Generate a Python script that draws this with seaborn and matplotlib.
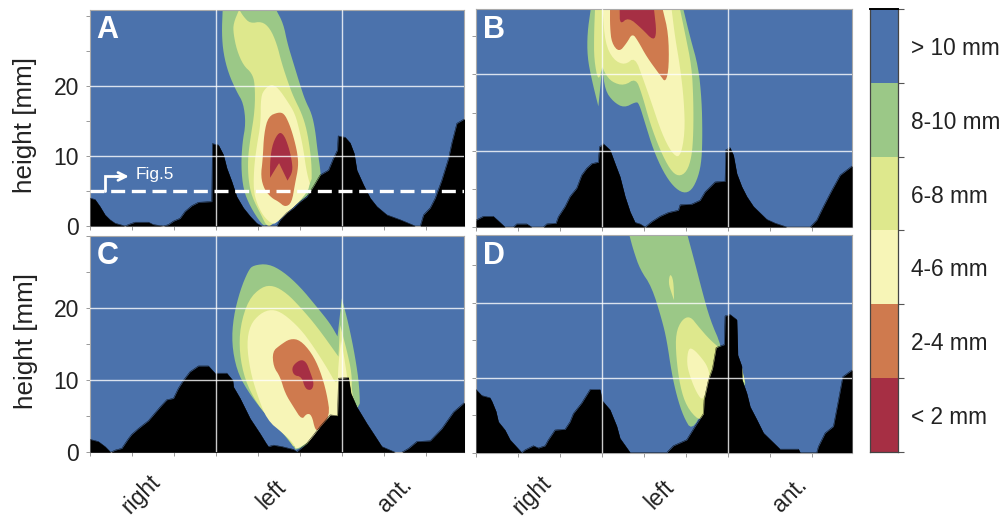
import numpy as np
import matplotlib
matplotlib.use("Agg")
import matplotlib.pyplot as plt
from matplotlib.colors import ListedColormap
import seaborn as sns

W, H = 1005, 517

# ground profile per panel: azimuth [deg] and height [mm]
ground_a_az = [0, 4.8, 9.5, 14.3, 19, 23.8, 28.6, 33.3, 38.1, 42.9, 55.6, 60.3, 69.8, 74.6, 79.4, 85.7, 90.5, 96.8, 103.2, 115.9,
               116.5, 122.2, 127, 130.2, 134.9, 139.7, 146, 152.4, 158.7, 163.5, 177.8, 181, 187.3, 193.7, 200, 206.3, 212.7, 219,
               227, 231.7, 235.6, 236.2, 242.9, 247.6, 251.4, 254, 260.3, 266.7, 273, 282.5, 295.2, 303.2, 309.5, 314.3, 317.5,
               323.8, 328.6, 334.9, 341.3, 344.4, 349.2, 357]
ground_a_h = [4.0, 3.8, 2.8, 1.6, 0.9, 0.4, 0.2, 0, 0.3, 0.55, 0.55, 0.2, 0, 0.2, 0.7, 1.1, 2.1, 2.9, 3.4, 3.5,
              11.8, 11.6, 10.2, 8.3, 6.4, 4.2, 2.6, 1.4, 0.4, 0, 0, 0.9, 1.9, 2.6, 3.5, 4.2, 5.7, 7.3,
              8, 9.7, 10.9, 12.9, 12.7, 11.9, 10.4, 8, 5.9, 4, 2.8, 1.6, 0.9, 0.4, 0, 0, 1.6,
              2.6, 4, 6.6, 9.7, 11.9, 14.7, 15.4]
ground_b_az = [0, 7, 16.5, 21.3, 27.6, 35.6, 38.7, 48.3, 53, 64.1, 67.3, 76.2, 78.4, 84.8, 89.5, 95.9, 100.6, 105.4, 110.2, 116.5,
               117.5, 121.3, 127.6, 132.4, 137.1, 141.9, 146.7, 151.4, 156.2, 161, 167.3, 175.2, 183.2, 192.7, 194.3, 205.4, 213.3,
               218.1, 227.6, 237.1, 237.8, 241.9, 245.1, 248.3, 253, 257.8, 264.1, 276.8, 284.8, 295.9, 318.1, 324.4, 330.8, 338.7,
               346.7, 358.1]
ground_b_h = [0.9, 1.4, 1.4, 0.8, 0, 0, 0.4, 0.4, 0, 0, 0.4, 0.5, 1.35, 2.7, 4, 5.1, 6.8, 7.7, 8.3, 8.5,
              10.5, 10.9, 10.1, 8.3, 6.6, 4, 2, 0.6, 0.4, 0, 0.7, 1.4, 1.9, 2.2, 2.9, 3, 3.5,
              4.6, 5.9, 6, 10.1, 10.4, 9.4, 7, 5.3, 4, 2.7, 1, 0.5, 0, 0, 0.9, 2.7, 4.8,
              6.8, 8]
ground_c_az = [0, 7.9, 14.3, 19.7, 23.8, 30.2, 36.5, 39.7, 46, 55.6, 66.7, 73, 79.4, 84.1, 88.9, 95.2, 103.2, 112.7, 119, 130.2,
               135.9, 136.5, 142.9, 152.4, 161.9, 167.6, 169.8, 174.6, 182.5, 193.7, 196.8, 206.3, 212.7, 219, 228.6, 235.6, 236.5,
               246, 248.3, 254, 263.5, 269.8, 277.8, 285.7, 290.5, 296.8, 303.2, 311.1, 323.8, 334.9, 346, 357]
ground_c_h = [1.8, 1.5, 0.8, 0, 0.3, 0.55, 1.9, 2.5, 3.3, 4.4, 6.3, 7.3, 7.5, 8.9, 10, 11.2, 12, 12, 11, 11,
              10, 9.1, 7.5, 4.7, 2.6, 1.25, 0.8, 1, 0.8, 0.4, 0.1, 1.25, 2.4, 3.6, 5.2, 5.1, 10.3,
              10.4, 8.2, 6.3, 4, 2.6, 0.8, 0.3, 0, 0, 0.55, 1.5, 1.6, 3.3, 5.6, 7]
ground_d_az = [0, 5.4, 13.3, 15.2, 19, 21.3, 27.6, 32.4, 43.5, 46.7, 54.6, 59.4, 65.7, 68.9, 75.2, 84.8, 89.5, 92.7, 100.6, 108.6,
               118.1, 120.3, 127.6, 134, 137.1, 146.7, 181.6, 187.9, 200.6, 208.6, 216.5, 217.1, 221.3, 225.1, 228.6, 236.5, 237.1,
               241.9, 248.3, 249.2, 253, 253.3, 257.8, 261, 267.3, 273.7, 289.5, 307, 308.6, 324.4, 326, 332.4, 340.3, 345.1, 349.2, 358]
ground_d_h = [8.4, 7.6, 7.3, 6.8, 5.5, 4.1, 3, 1.7, 0, 0.35, 0.9, 0.6, 0.9, 1.7, 3, 3.1, 4.1, 5.2, 6.6, 8.4,
              8.4, 6.9, 5.7, 3.5, 1.9, 0, 0, 0.9, 1.7, 3.5, 5.2, 7, 9.7, 11.2, 14, 14.4, 18.2,
              18.4, 17.7, 13, 11.5, 9.7, 7.9, 6.1, 4.4, 2.6, 0.45, 0.45, 0, 0, 0.8, 2.6, 3.5, 7, 10.1, 11]

# contour outlines (azimuth deg, height mm), a repeated point is a sharp corner
a_8_10 = [(126.3, 31), (126.3, 31), (177, 31), (177, 31), (184, 29), (188, 26.1), (193.7, 23.3), (200, 20.2), (204.8, 18), (211, 16.1), (214.3, 13.8),
          (216.5, 10.9), (219.7, 7.6), (219.7, 5.7), (168, 0), (163.5, 0.2), (152.4, 2.8), (146, 5.2), (143.8, 8.5), (145, 11.9),
          (148.3, 14.7), (146, 17.6), (139.7, 19.2), (131.7, 21.9), (127, 24.7), (125.4, 27.6)]
a_6_8 = [(142, 31), (142, 31), (146, 30), (152.4, 29), (163.5, 29.3), (171.4, 28.3), (177.8, 26.1), (182.5, 23.3), (188.9, 20.4), (193.7, 18.5),
         (201.6, 16.1), (206.3, 13.8), (209.5, 10.9), (211, 8.5), (211, 5.7), (173, 0), (168, 0), (163.5, 1.4), (154, 4.2), (150.8, 6.6),
         (150.2, 9.5), (152.4, 12.3), (157, 16.6), (157, 20.4), (154, 21.9), (146, 23), (139.7, 25.2), (136.5, 27.6), (136.5, 29)]
a_4_6 = [(173, 20.3), (179.4, 19.7), (187.3, 18), (195.2, 16.1), (200, 13.3), (203.2, 10.9), (206.3, 7.6), (211, 5.2), (177.8, 0.4),
         (173, 0.3), (165, 1.4), (158.7, 3.3), (155.6, 5.2), (156.2, 8.5), (158.7, 11.4), (162.5, 14.7), (162.5, 18.5), (166.7, 19.7)]
a_2_4 = [(179.4, 16.3), (184.8, 16.1), (189.5, 14.7), (193.7, 12.8), (197.5, 10.4), (198.4, 8.5), (195.2, 6.1), (192, 3.3), (185.7, 2.7),
         (179.4, 3.5), (173, 4), (166, 5.2), (162.5, 7.1), (164.4, 9.5), (165.7, 13.3), (169.8, 15.7)]
a_0_2 = [(180, 13.5), (184.8, 13), (188.9, 11.4), (192, 9.5), (193, 7.8), (188, 6.5), (188, 6.5), (180, 9), (180, 9), (177.8, 8.5), (171.4, 6.9), (171.4, 6.9), (171.4, 9.5), (174, 11.9)]

b_8_10 = [(109.2, 28.5), (109.2, 28.5), (197.5, 28.5), (197.5, 28.5), (203.8, 24.9), (211.7, 21), (214.9, 16.6), (215.6, 12.3), (214.9, 8.8), (211.7, 6.6), (205.4, 4.8),
          (197.5, 4.4), (187.9, 5.3), (178.4, 7.2), (168.9, 10.1), (161, 13.6), (155.2, 16.2), (152.1, 16.4), (141, 15.6), (130.8, 16.4),
          (122.9, 17.9), (120.3, 21), (120.3, 21), (116.5, 15.8), (116.5, 15.8), (110.2, 19.3), (106, 22.3), (106, 25.4)]
b_6_8 = [(113.3, 28.5), (113.3, 28.5), (194.3, 28.5), (194.3, 28.5), (199, 25.4), (205.4, 21), (207, 16.6), (207, 12.3), (205.4, 9.2), (200.6, 7.2), (192.7, 6.6),
         (184.8, 7.5), (175.2, 10.1), (165.7, 13.6), (157.8, 17.5), (152.1, 19.5), (141, 18.5), (129.2, 19), (122.9, 20.1), (120.3, 21), (120.3, 21),
         (116.5, 19), (112.4, 21.9), (112.4, 25.4)]
b_4_6 = [(120.6, 28.5), (120.6, 28.5), (186.3, 28.5), (186.3, 28.5), (189.5, 24.9), (194.3, 21), (198, 16.6), (199, 12.3), (194.3, 9), (186.3, 9.7), (176.8, 12.3),
         (167.3, 16.2), (159.4, 19.3), (151.4, 22.3), (141.9, 21.2), (130.8, 21.9), (122.9, 24.1)]
b_2_4 = [(127.6, 28.5), (127.6, 28.5), (177.8, 28.5), (177.8, 28.5), (183.2, 25.4), (183.8, 21), (180.6, 18.9), (175.2, 19.9), (162.5, 22.3), (154.6, 24.3), (148.9, 25.4),
         (143.5, 24.1), (136.2, 22.9), (129.2, 24.1), (127.6, 26.2)]
b_0_2 = [(136.8, 28.5), (136.8, 28.5), (169.5, 28.5), (169.5, 28.5), (172, 25.4), (168.9, 24.4), (157.8, 26), (145, 27.5), (137, 26.5)]

c_8_10 = [(155.6, 26), (169.8, 26.2), (184.1, 25.1), (200, 23), (215.9, 20.2), (228.6, 17.9), (235.6, 16.1), (235.6, 16.1), (239.7, 21.4), (239.7, 21.4), (246, 17.9),
          (252.4, 13.3), (256.5, 9.1), (257, 5.4), (196.8, 0.1), (193.7, 0.8), (181, 3.1), (165, 5.6), (149.2, 8.7), (139.7, 11.4),
          (134.9, 15.1), (136.5, 18.8), (142.9, 22.5), (150.8, 25.3)]
c_6_8 = [(163.5, 23), (174.6, 23.2), (187.3, 22.1), (200, 20.2), (215.9, 17.5), (236.5, 13.3), (236.5, 13.3), (238, 17.7), (238, 17.7), (244.4, 14.2), (249.2, 11),
         (249.2, 8.2), (254, 5.9), (196.8, 0.1), (187.3, 2.2), (174.6, 4), (158.7, 6.8), (147.6, 10), (142.2, 13.8), (142.9, 17.5), (150.8, 21.2)]
c_4_6 = [(173, 19.9), (184, 19.3), (200, 17.2), (212.7, 14.7), (227, 11.4), (235.6, 9.1), (236.5, 12.4), (239, 15.6), (239, 15.6), (242.9, 12.4),
         (246, 9.1), (238, 5), (196.8, 0.1), (193.7, 1.25), (184, 2.6), (168.3, 4.5), (158.7, 8.2), (152.4, 11.4), (149.2, 15.1), (152.4, 17.7), (162, 19.3)]
c_2_4 = [(190.5, 15.8), (200, 15.6), (211, 13.8), (219, 11.4), (225.4, 8.2), (228.6, 5), (217.5, 3.1), (214.3, 3.1), (211, 5.2),
         (206.3, 5.4), (201.6, 4.5), (193.7, 6.3), (185.7, 8.2), (181, 10.5), (174.6, 11.9), (173.7, 14), (181, 14.9)]
c_0_2 = [(200, 12.9), (205.7, 12.6), (209.5, 11.2), (213.3, 9.6), (211, 8.6), (204.8, 8.8), (201.6, 10.5), (193.7, 10.7), (192, 11.9)]

d_8_10 = [(146, 29), (146, 29), (201.3, 29), (201.3, 29), (208.6, 25.2), (215, 21.7), (222.9, 17.7), (234, 14.1), (235.6, 11), (253, 11.5), (258.4, 7.9),
          (216.5, 5.7), (205.4, 2.9), (197.5, 4.8), (191.2, 7.5), (186.3, 10.6), (181.6, 15), (177, 17.7), (167.3, 22.1), (156.2, 24.4), (149.8, 27)]
d_6_8 = [(195.9, 17.7), (203.8, 18.2), (211.7, 16.8), (222.9, 15), (234, 13.7), (229.2, 7.5), (216.5, 4.8), (211.7, 4.3), (200.6, 6.1),
         (194.3, 8.8), (190.5, 12.8), (190.2, 15.9)]
d_6_8_island = [(184.8, 23.9), (188, 23), (188.6, 20.3), (188.6, 20.3), (186.3, 21.2), (183.2, 22.6)]
d_6_8_sliver = [(253, 11.5), (253, 11.5), (256.2, 9.2), (256.2, 9.2), (254, 9.6), (254, 9.6)]
d_4_6 = [(202.2, 13.9), (207, 13.8), (214.9, 12.6), (220.3, 11.5), (222.9, 10.1), (216.5, 6.8), (210.2, 7.9), (203.8, 10.1), (200.6, 11.9)]

legend_labels = ["> 10 mm", "8-10 mm", "6-8 mm", "4-6 mm", "2-4 mm", "< 2 mm"]
colors = ["#4b72ac", "#9bc887", "#dee88d", "#f7f5b7", "#cf7a4e", "#a62f44"]
GREEN, YELLOW, PALE, ORANGE, RED = colors[1:]

sns.set_theme(style="white")
plt.rcParams["font.family"] = ["Liberation Sans", "DejaVu Sans"]


def add_axes(fig, x0, y0, x1, y1):
    return fig.add_axes([x0 / W, 1 - y1 / H, (x1 - x0) / W, (y1 - y0) / H])


def rounded(poly, n=2):
    # corner cutting, so the outlines look like contours and not polygons
    pts = np.array(poly, dtype=float)
    for _ in range(n):
        nxt = np.roll(pts, -1, axis=0)
        out = np.empty((len(pts) * 2, 2))
        out[0::2] = 0.75 * pts + 0.25 * nxt
        out[1::2] = 0.25 * pts + 0.75 * nxt
        pts = out
    return pts


def panel(ax, letter, ground_az, ground_h, bands, xmax, ymax, ylab_pos, xlabs):
    ax.set_facecolor(colors[0])
    for poly, col in bands:
        pts = rounded(poly)
        ax.fill(pts[:, 0], pts[:, 1], color=col, lw=0)
    ax.fill_between(ground_az, 0, ground_h, color="black", lw=0, zorder=3)
    sns.lineplot(x=ground_az, y=ground_h, color="black", lw=0.3, ax=ax, zorder=3, errorbar=None, sort=False)
    ax.set_xlim(0, xmax)
    ax.set_ylim(0, ymax)
    ax.set_xticks(np.arange(0, 360, 40))
    ax.set_yticks(np.arange(0, ymax, 5))
    ax.set_xticklabels([])
    if ylab_pos:
        ax.set_yticklabels(["0", "", "10", "", "20", "", ""][:len(ax.get_yticks())], fontsize=16.5, color="#222222")
    else:
        ax.set_yticklabels([])
    ax.tick_params(axis="both", length=3, width=0.7, color="#999999", left=True, bottom=True, pad=5)
    for v in (120, 240):
        ax.axvline(v, color="white", lw=1.0, alpha=0.8, zorder=4)
    for v in (10, 20):
        ax.axhline(v, color="white", lw=1.0, alpha=0.8, zorder=4)
    for s in ax.spines.values():
        s.set_color("#aaaaaa")
        s.set_linewidth(0.8)
    ax.set_xlabel("")
    ax.set_ylabel("")
    if ylab_pos:
        ax.set_ylabel("height [mm]", fontsize=18.7, color="#222222")
        ax.yaxis.set_label_coords(*ylab_pos)
    ax.text(0.018, 0.905, letter, transform=ax.transAxes, color="white", fontsize=22,
            fontweight="bold", va="center", ha="left", zorder=6)
    for name, pos in xlabs:
        ax.text(pos, -0.195, name, transform=ax.get_xaxis_transform(), rotation=45, ha="center", va="center",
                fontsize=16.5, color="#222222")


fig = plt.figure(figsize=(W / 100, H / 100), dpi=100)

ax_a = add_axes(fig, 90, 9.5, 464, 226)
ax_b = add_axes(fig, 476, 9.5, 852, 227)
ax_c = add_axes(fig, 90, 235.7, 464, 452.3)
ax_d = add_axes(fig, 476, 235, 852, 452.5)

panel(ax_a, "A", ground_a_az, ground_a_h, [(a_8_10, GREEN), (a_6_8, YELLOW), (a_4_6, PALE), (a_2_4, ORANGE), (a_0_2, RED)],
      356, 31, (-0.143, 0.467), [])
panel(ax_b, "B", ground_b_az, ground_b_h, [(b_8_10, GREEN), (b_6_8, YELLOW), (b_4_6, PALE), (b_2_4, ORANGE), (b_0_2, RED)],
      358, 28.5, None, [])
panel(ax_c, "C", ground_c_az, ground_c_h, [(c_8_10, GREEN), (c_6_8, YELLOW), (c_4_6, PALE), (c_2_4, ORANGE), (c_0_2, RED)],
      356, 30.1, (-0.138, 0.514), [("right", 49), ("left", 173), ("ant.", 290)])
panel(ax_d, "D", ground_d_az, ground_d_h, [(d_8_10, GREEN), (d_6_8, YELLOW), (d_6_8_island, YELLOW), (d_6_8_sliver, YELLOW), (d_4_6, PALE)],
      358, 29, None, [("right", 53), ("left", 175), ("ant.", 299)])

# section marker in panel A
ax_a.axhline(5, color="white", lw=2.4, dashes=(4.2, 2), zorder=5)
ax_a.plot([14.3, 14.3, 30], [5, 7.1, 7.1], color="white", lw=2, zorder=5, solid_joinstyle="miter")
ax_a.annotate("", xy=(37, 7.1), xytext=(25, 7.1), zorder=5,
              arrowprops=dict(arrowstyle="->", color="white", lw=2, shrinkA=0, shrinkB=0, mutation_scale=14))
ax_a.text(43, 7.4, "Fig.5", color="white", fontsize=12.4, va="center", ha="left", zorder=6)

# colour key
cax = add_axes(fig, 870, 9, 898, 452)
sns.heatmap(np.arange(6).reshape(6, 1), cmap=ListedColormap(colors), cbar=False, ax=cax,
            xticklabels=False, yticklabels=legend_labels, linewidths=0)
cax.yaxis.tick_right()
cax.tick_params(axis="y", which="major", length=0, labelrotation=0, labelsize=16.3, labelcolor="#222222", pad=9)
cax.set_yticks(np.arange(0, 7), minor=True)
cax.tick_params(axis="y", which="minor", length=4, width=0.8, color="#555555", right=True, left=False)
for s in cax.spines.values():
    s.set_visible(True)
    s.set_color("#444444")
    s.set_linewidth(0.9)
cax.spines["top"].set_linewidth(1.4)
cax.spines["top"].set_color("black")

plt.savefig("out.png", dpi=100)
